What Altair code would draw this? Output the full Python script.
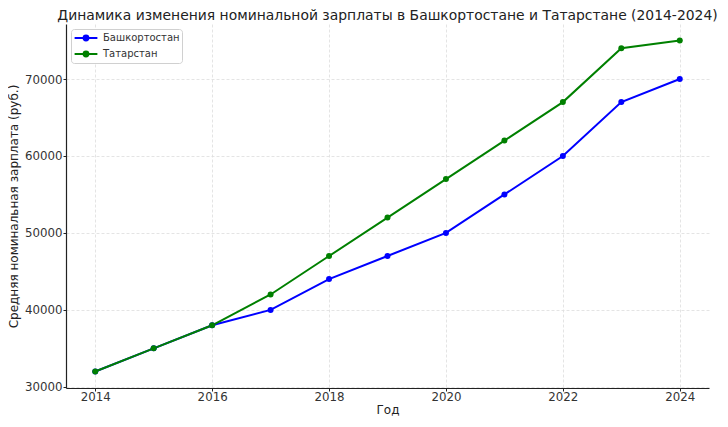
import altair as alt
import pandas as pd

years = [2014, 2015, 2016, 2017, 2018, 2019, 2020, 2021, 2022, 2023, 2024]
bashkortostan = [32000, 35000, 38000, 40000, 44000, 47000, 50000, 55000, 60000, 67000, 70000]
tatarstan = [32000, 35000, 38000, 42000, 47000, 52000, 57000, 62000, 67000, 74000, 75000]
series_names = ["Башкортостан", "Татарстан"]
series_colors = ["#0000ff", "#008000"]

rows = []
for y, v in zip(years, bashkortostan):
    rows.append({"Год": y, "Значение": v, "Регион": series_names[0]})
for y, v in zip(years, tatarstan):
    rows.append({"Год": y, "Значение": v, "Регион": series_names[1]})
df = pd.DataFrame(rows)

FONT = "DejaVu Sans"


def ring(r):
    return "M-{r},0A{r},{r} 0 1,1 {r},0A{r},{r} 0 1,1 -{r},0".format(r=r)


sym_path = "M-1.9,0L1.9,0" + ring(0.4) + ring(0.22) + ring(0.05)

color = alt.Color(
    "Регион:N",
    scale=alt.Scale(domain=series_names, range=series_colors),
    legend=alt.Legend(
        title=None,
        orient="top-left",
        offset=5,
        symbolType=sym_path,
        symbolSize=144,
        symbolStrokeWidth=2,
        symbolOffset=6,
        labelOffset=10,
        labelFont=FONT,
        labelFontSize=10,
        labelColor="#333333",
        padding=2,
        rowPadding=2,
        strokeColor="#d0d0d0",
        fillColor="white",
        cornerRadius=3,
    ),
)

x = alt.X(
    "Год:Q",
    scale=alt.Scale(domain=[2013.5, 2024.5], nice=False, zero=False),
    axis=alt.Axis(values=[2014, 2016, 2018, 2020, 2022, 2024], format="d", title="Год"),
)
y = alt.Y(
    "Значение:Q",
    scale=alt.Scale(domain=[29850, 77150], nice=False, zero=False),
    axis=alt.Axis(values=[30000, 40000, 50000, 60000, 70000], format="d",
                  title="Средняя номинальная зарплата (руб.)"),
)

chart = (
    alt.Chart(df)
    .mark_line(strokeWidth=2, point=alt.OverlayMarkDef(filled=True, size=36, opacity=1))
    .encode(x=x, y=y, color=color)
    .properties(
        width=643,
        height=364,
        title=alt.TitleParams(
            "Динамика изменения номинальной зарплаты в Башкортостане и Татарстане (2014-2024)",
            font=FONT, fontSize=13.9, fontWeight="normal", color="#222222",
            anchor="middle", offset=1,
        ),
        autosize=alt.AutoSizeParams(type="none"),
        padding={"left": 58, "top": 16, "right": 11, "bottom": 30},
    )
    .configure_view(stroke=None)
    .configure_axis(
        labelFont=FONT, labelFontSize=11.8, labelColor="#333333",
        titleFont=FONT, titleFontSize=12, titleFontWeight="normal", titleColor="#222222",
        domainColor="#222222", domainWidth=1.2,
        tickColor="#222222", tickSize=3,
        grid=True, gridColor="#dddddd", gridDash=[3, 2], gridWidth=0.8,
    )
    .configure_axisX(titlePadding=2, labelPadding=0)
    .configure_axisY(titlePadding=4, labelPadding=1)
)

chart.save("out.html", embed_options={"renderer": "svg", "actions": False})
